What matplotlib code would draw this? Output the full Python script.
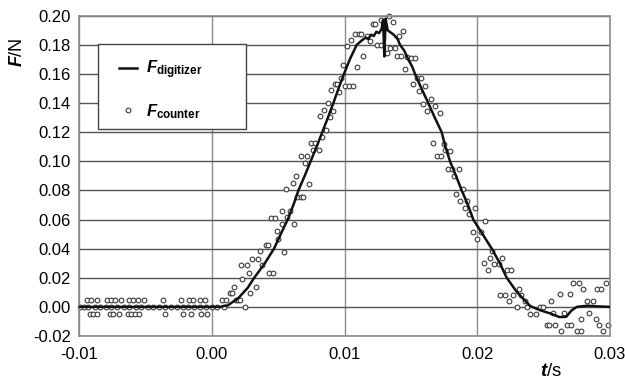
import matplotlib
matplotlib.use("Agg")
import matplotlib.pyplot as plt
from matplotlib.ticker import FixedLocator
from matplotlib.patches import Rectangle

plt.rcParams['font.family'] = ['Liberation Sans', 'DejaVu Sans']
plt.rcParams['mathtext.fontset'] = 'custom'
plt.rcParams['mathtext.it'] = 'Liberation Sans:italic:bold'
plt.rcParams['mathtext.bf'] = 'Liberation Sans:bold'
plt.rcParams['mathtext.rm'] = 'Liberation Sans'

# ---- data: digitizer force trace ----
t_digit = [-0.0100, 0.0006, 0.0012, 0.0020, 0.0027, 0.0032, 0.0040, 0.00469, 0.0052,
           0.00572, 0.00615, 0.00653, 0.0070, 0.00745, 0.0079, 0.00833, 0.00875,
           0.00916, 0.00955, 0.00996, 0.0104, 0.01092, 0.0113, 0.0116, 0.0118, 0.0120,
           0.0122, 0.0124, 0.0126, 0.0128, 0.0129, 0.01295, 0.0130, 0.01305, 0.0131,
           0.01325, 0.0134, 0.0137, 0.0140, 0.01418, 0.0145, 0.0148, 0.0151, 0.01531,
           0.0158, 0.01631, 0.0168, 0.01732, 0.0176, 0.01795, 0.0184, 0.01883, 0.0193,
           0.0197, 0.0204, 0.02109, 0.0217, 0.02222, 0.0230, 0.0240, 0.0248, 0.0255,
           0.0262, 0.0267, 0.0271, 0.0275, 0.0283, 0.0292, 0.0300]
f_digit = [0.000, 0.000, 0.001, 0.006, 0.013, 0.020, 0.030, 0.040, 0.050,
           0.060, 0.070, 0.080, 0.090, 0.100, 0.110, 0.120, 0.130,
           0.140, 0.150, 0.160, 0.170, 0.180, 0.183, 0.185, 0.184, 0.187,
           0.186, 0.189, 0.188, 0.191, 0.197, 0.186, 0.172, 0.185, 0.198,
           0.190, 0.189, 0.187, 0.184, 0.180, 0.176, 0.170, 0.165, 0.160,
           0.150, 0.140, 0.130, 0.120, 0.110, 0.100, 0.090, 0.080, 0.070,
           0.060, 0.050, 0.040, 0.030, 0.020, 0.010, 0.0005, -0.0025, -0.0045,
           -0.0070, -0.0068, -0.0025, 0.000, 0.0008, 0.0003, 0.000]

# ---- data: counter force samples ----
t_counter = [
    # baseline, +step
    -0.00937, -0.00907, -0.00867, -0.00787, -0.00757, -0.00731, -0.00681, -0.00621,
    -0.00591, -0.00556, -0.00510, -0.00370, -0.00229, -0.00174, -0.00144, -0.00089, -0.00049,
    # baseline, -step
    -0.00917, -0.00892, -0.00862, -0.00767, -0.00746, -0.00696, -0.00631, -0.00606,
    -0.00580, -0.00546, -0.00354, -0.00214, -0.00159, -0.00079, -0.00034,
    # baseline, zero
    -0.0099, -0.0096, -0.0093, -0.0088, -0.0084, -0.0080, -0.0076, -0.0071, -0.0066,
    -0.0062, -0.0057, -0.0053, -0.0048, -0.0044, -0.0040, -0.0035, -0.0031, -0.0026,
    -0.0022, -0.0018, -0.0013, -0.0009, -0.0004, 0.0000, 0.0004,
    # rising
    0.00079, 0.00110, 0.00090, 0.00135, 0.00150, 0.00165, 0.00180, 0.00195, 0.00210,
    0.00250, 0.00230, 0.00290, 0.00330, 0.00280, 0.00220, 0.00266, 0.00305, 0.00346,
    0.00380, 0.00430, 0.00460, 0.00360, 0.00410, 0.00420, 0.00547, 0.00500, 0.00490,
    0.00530, 0.00620, 0.00446, 0.00476, 0.00570, 0.00530, 0.00587, 0.00640, 0.00670,
    0.00687, 0.00560, 0.00610, 0.00730, 0.00635, 0.00705, 0.00675, 0.00720, 0.00760,
    0.00806, 0.00750, 0.00778, 0.00827, 0.00860, 0.00815, 0.00890, 0.00846, 0.00917,
    0.00876, 0.00900, 0.00960, 0.00928, 0.00947, 0.01006, 0.01036, 0.01064, 0.00976,
    0.00990, 0.01096,
    # peak
    0.01019, 0.01047, 0.01077, 0.01110, 0.01124, 0.01137, 0.01167, 0.01192, 0.01212,
    0.01226, 0.01243, 0.01277, 0.01275, 0.01333, 0.01363, 0.01318, 0.01343, 0.01378,
    0.01393, 0.01423, 0.01408, 0.01438,
    # falling
    0.01456, 0.01473, 0.01503, 0.01533, 0.01514, 0.01544, 0.01574, 0.01606, 0.01563,
    0.01654, 0.01589, 0.01684, 0.01619, 0.01716, 0.01669, 0.01752, 0.01699, 0.01729,
    0.01759, 0.01792, 0.01776, 0.01810, 0.01860, 0.01825, 0.01890, 0.01840, 0.01870,
    0.01920, 0.01905, 0.01940, 0.01985, 0.02060, 0.01966, 0.02030, 0.02000, 0.02111,
    0.02096, 0.02186, 0.02051, 0.02126, 0.02162, 0.02081, 0.02222, 0.02252, 0.02312,
    0.02171, 0.02207, 0.02267, 0.02332, 0.02237, 0.02357, 0.02302, 0.02377,
    # tail
    0.02473, 0.02493, 0.02397, 0.02443, 0.02528, 0.02543, 0.02588, 0.02553, 0.02568,
    0.02620, 0.02633, 0.02653, 0.02678, 0.02709, 0.02695, 0.02725, 0.02763, 0.02748,
    0.02778, 0.02794, 0.02785, 0.02823, 0.02840, 0.02872, 0.02894, 0.02904, 0.02934,
    0.02919, 0.02951, 0.02970, 0.02985]
f_counter = [
    0.0048, 0.0048, 0.0048, 0.0048, 0.0048, 0.0048, 0.0048, 0.0048,
    0.0048, 0.0048, 0.0048, 0.0048, 0.0048, 0.0048, 0.0048, 0.0048, 0.0048,
    -0.0050, -0.0050, -0.0050, -0.0050, -0.0050, -0.0050, -0.0050, -0.0050,
    -0.0050, -0.0050, -0.0050, -0.0050, -0.0050, -0.0050, -0.0050,
    0.0, 0.0, 0.0, 0.0, 0.0, 0.0, 0.0, 0.0, 0.0,
    0.0, 0.0, 0.0, 0.0, 0.0, 0.0, 0.0, 0.0, 0.0,
    0.0, 0.0, 0.0, 0.0, 0.0, 0.0, 0.0,
    0.0048, 0.0048, 0.0000, 0.0094, 0.0094, 0.0140, 0.0048, 0.0048, 0.0048,
    0.0000, 0.0190, 0.0094, 0.0140, 0.0236, 0.0287, 0.0287, 0.0332, 0.0332,
    0.0287, 0.0236, 0.0236, 0.0383, 0.0428, 0.0428, 0.0378, 0.0469, 0.0520,
    0.0566, 0.0566, 0.0612, 0.0612, 0.0617, 0.0662, 0.0662, 0.0758, 0.0758,
    0.0758, 0.0809, 0.0852, 0.0845, 0.0900, 0.0988, 0.1038, 0.1033, 0.1079,
    0.1079, 0.1129, 0.1127, 0.1168, 0.1212, 0.1310, 0.1304, 0.1354, 0.1344,
    0.1399, 0.1487, 0.1476, 0.1533, 0.1528, 0.1519, 0.1514, 0.1514, 0.1572,
    0.1661, 0.1646,
    0.1794, 0.1835, 0.1874, 0.1873, 0.1871, 0.1725, 0.1863, 0.1823, 0.1943,
    0.1940, 0.1800, 0.1796, 0.1973, 0.2000, 0.1959, 0.1742, 0.1780, 0.1775,
    0.1725, 0.1725, 0.1858, 0.1895,
    0.1632, 0.1716, 0.1711, 0.1707, 0.1533, 0.1569, 0.1569, 0.1519, 0.1485,
    0.1427, 0.1395, 0.1381, 0.1345, 0.1335, 0.1125, 0.1120, 0.1038, 0.1036,
    0.1079, 0.1074, 0.0946, 0.0946, 0.0944, 0.0900, 0.0813, 0.0772, 0.0726,
    0.0726, 0.0680, 0.0639, 0.0680, 0.0593, 0.0511, 0.0511, 0.0465, 0.0383,
    0.0337, 0.0337, 0.0300, 0.0296, 0.0296, 0.0254, 0.0254, 0.0254, 0.0126,
    0.0085, 0.0085, 0.0085, 0.0085, 0.0043, 0.0043, 0.0000, 0.0000,
    0.0000, 0.0000, -0.0046, -0.0046, -0.0126, -0.0126, -0.0126, 0.0043, -0.0043,
    0.0086, -0.0168, -0.0043, -0.0126, -0.0126, 0.0086, 0.0167, 0.0167, -0.0168,
    -0.0168, 0.0122, -0.0080, 0.0043, -0.0043, 0.0043, -0.0080, 0.0122, 0.0122,
    -0.0126, -0.0168, 0.0167, -0.0126]

x_ticks = [-0.01, 0.00, 0.01, 0.02, 0.03]
x_ticklabels = ['-0.01', '0.00', '0.01', '0.02', '0.03']
y_ticks = [-0.02, 0.00, 0.02, 0.04, 0.06, 0.08, 0.10, 0.12, 0.14, 0.16, 0.18, 0.20]
y_ticklabels = ['%.2f' % v for v in y_ticks]

fig = plt.figure(figsize=(6.25, 3.83), dpi=100)
ax = fig.add_axes([0.1264, 0.1227, 0.976 - 0.1264, 0.959 - 0.1227])

ax.set_xlim(-0.01, 0.03)
ax.set_ylim(-0.02, 0.20)
ax.xaxis.set_major_locator(FixedLocator(x_ticks))
ax.yaxis.set_major_locator(FixedLocator(y_ticks))
ax.set_xticklabels(x_ticklabels)
ax.set_yticklabels(y_ticklabels)
ax.tick_params(length=0, labelsize=12, colors='black')
ax.tick_params(axis='y', pad=6)
ax.tick_params(axis='x', pad=8)

ax.grid(axis='y', color='#555555', linewidth=1.0)
ax.grid(axis='x', color='#8c8c8c', linewidth=1.0)
ax.set_axisbelow(True)
for s in ax.spines.values():
    s.set_color('#8c8c8c')
    s.set_linewidth(1.2)

ax.plot(t_counter, f_counter, linestyle='none', marker='o', markersize=3.4,
        markerfacecolor='white', markeredgecolor='#3a3a3a', markeredgewidth=0.8,
        label=r'$F_{\mathbf{counter}}$', zorder=2, clip_on=False)
ax.plot(t_digit, f_digit, color='#111111', linewidth=1.8,
        label=r'$F_{\mathbf{digitizer}}$', zorder=3)

# legend box (fixed size as in the reference)
box = Rectangle((0.0358, 0.6463), 0.3145 - 0.0358, 0.9116 - 0.6463,
                transform=ax.transAxes, facecolor='white', edgecolor='#444444',
                linewidth=1.0, zorder=4)
ax.add_patch(box)

h, l = ax.get_legend_handles_labels()
leg = ax.legend([h[1], h[0]], [l[1], l[0]], loc='upper left',
                bbox_to_anchor=(0.0753, 0.866), borderaxespad=0,
                fontsize=12, frameon=False, handlelength=1.1, handletextpad=0.55,
                borderpad=0, labelspacing=1.25, markerscale=1.0)
leg.set_zorder(5)

fig.text(18 / 625, 1 - 52 / 383, r'$F$/N', rotation=90, ha='center', va='center', fontsize=13)
fig.text(551 / 625, 1 - 371 / 383, r'$t$/s', ha='center', va='center', fontsize=13.5)

fig.savefig('out.png', dpi=100)
